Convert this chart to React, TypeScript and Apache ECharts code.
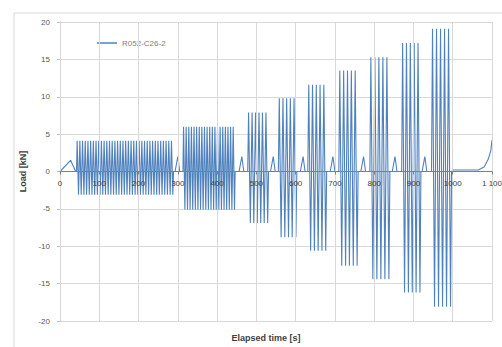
import React, { useEffect, useRef } from "react";
import * as echarts from "echarts";

// Load history (time in s, load in kN)
const seriesName = "R052-C26-2";
// Initial ramp
const startTimes = [0, 27, 40];
const startLoads = [0, 1.5, 0];
// Cyclic blocks
const blockStart = [42, 313, 478, 556, 631, 710, 789, 870, 946];
const blockEnd = [289, 446, 531, 603, 679, 759, 840, 919, 997];
const blockMax = [4.1, 6.0, 7.9, 9.8, 11.6, 13.5, 15.3, 17.2, 19.1];
const blockMin = [-3.1, -5.1, -6.9, -8.8, -10.6, -12.6, -14.4, -16.2, -18.1];
const blockCycles = [36, 20, 6, 5, 5, 5, 5, 5, 5];
// Small ramps between blocks
const rampPeakTime = [300, 463, 543, 619, 695, 773, 853, 929];
const rampPeakLoad = [2.0, 2.0, 2.0, 2.0, 2.0, 2.0, 2.0, 2.0];
// Tail after last block
const tailTimes = [1000, 1065, 1080, 1090, 1097, 1100];
const tailLoads = [0.2, 0.2, 0.6, 1.6, 2.8, 4.2];

const xTickLabels: Record<number, string> = {
  0: "0", 100: "100", 200: "200", 300: "300", 400: "400", 500: "500",
  600: "600", 700: "700", 800: "800", 900: "900", 1000: "1000", 1100: "1 100",
};

function buildData(): [number, number][] {
  const pts: [number, number][] = [];
  startTimes.forEach((t, i) => pts.push([t, startLoads[i]]));
  blockStart.forEach((s, b) => {
    const e = blockEnd[b];
    const n = blockCycles[b];
    const p = (e - s) / n;
    pts.push([s, 0]);
    for (let k = 0; k < n; k++) {
      pts.push([s + k * p + p * 0.25, blockMax[b]]);
      pts.push([s + k * p + p * 0.75, blockMin[b]]);
    }
    pts.push([e, 0]);
    if (b < rampPeakTime.length) {
      const rt = rampPeakTime[b];
      pts.push([rt - 7, 0]);
      pts.push([rt, rampPeakLoad[b]]);
      pts.push([rt + 5, 0]);
    }
  });
  tailTimes.forEach((t, i) => pts.push([t, tailLoads[i]]));
  return pts;
}

const GRID_TOP = 22;
const GRID_BOTTOM = 26;
const CHART_H = 347;

export default function App() {
  const ref = useRef<HTMLDivElement>(null);
  useEffect(() => {
    if (!ref.current) return;
    const chart = echarts.init(ref.current, undefined, { renderer: "svg" });
    const font = "'Liberation Sans', Arial, sans-serif";
    const plotH = CHART_H - GRID_TOP - GRID_BOTTOM;
    chart.setOption({
      animation: false,
      backgroundColor: "#ffffff",
      textStyle: { fontFamily: font },
      grid: { left: 60, right: 10, top: GRID_TOP, bottom: GRID_BOTTOM, containLabel: false, outerBoundsMode: "none" },
      legend: {
        left: 97,
        top: 39,
        padding: 0,
        icon: "rect",
        itemWidth: 20,
        itemHeight: 1.5,
        itemGap: 4,
        textStyle: { fontSize: 8, color: "#7f7f7f", fontFamily: font },
        data: [seriesName],
      },
      graphic: [
        {
          type: "rect",
          shape: { x: 14, y: 13, width: 520, height: 360 },
          style: { fill: "none", stroke: "#d9d9d9", lineWidth: 1 },
          silent: true,
          z: -1,
        },
        {
          type: "text",
          x: 266,
          y: 338,
          style: {
            text: "Elapsed time [s]",
            font: `bold 9px ${font}`,
            fill: "#404040",
            align: "center",
            verticalAlign: "middle",
          },
        },
      ],
      xAxis: {
        type: "value",
        min: 0,
        max: 1100,
        interval: 100,
        position: "bottom",
        offset: -plotH / 2,
        zlevel: 1,
        z: 10,
        axisLine: { onZero: false, lineStyle: { color: "#7f7f7f", width: 1 } },
        axisTick: { show: true, length: 3, lineStyle: { color: "#7f7f7f" } },
        axisLabel: {
          fontSize: 8,
          color: "#404040",
          margin: 8,
          formatter: (v: number) => xTickLabels[v] ?? String(v),
        },
        splitLine: { show: true, lineStyle: { color: "#d9d9d9", width: 1 } },
      },
      yAxis: {
        type: "value",
        min: -20,
        max: 20,
        interval: 5,
        name: "Load [kN]",
        nameLocation: "middle",
        nameGap: 32,
        nameTextStyle: { fontSize: 9, fontWeight: "bold", color: "#404040" },
        axisLine: { show: true, lineStyle: { color: "#bfbfbf" } },
        axisTick: { show: true, length: 3, lineStyle: { color: "#bfbfbf" } },
        axisLabel: { fontSize: 8, color: "#595959", margin: 10 },
        splitLine: { show: true, lineStyle: { color: "#d9d9d9", width: 1 } },
      },
      series: [
        {
          name: seriesName,
          type: "line",
          data: buildData(),
          symbol: "none",
          z: 1,
          lineStyle: { color: "#4f81bd", width: 1.1 },
          itemStyle: { color: "#4f81bd" },
        },
      ],
    });
    return () => chart.dispose();
  }, []);
  return <div ref={ref} style={{ width: 502, height: 347, position: "absolute", left: 0, top: 0 }} />;
}
